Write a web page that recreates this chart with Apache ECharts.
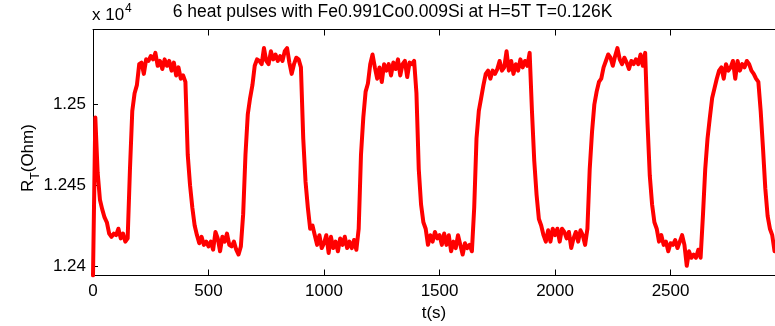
<!DOCTYPE html>
<html>
<head>
<meta charset="utf-8">
<script src="https://cdn.jsdelivr.net/npm/echarts@6/dist/echarts.min.js"></script>
<style>
html,body{margin:0;padding:0;background:#fff;}
#chart{width:775px;height:326px;}
</style>
</head>
<body>
<div id="chart"></div>
<script>
// Sampling step of the recording (s)
const timeStep = 10;
// Resistance R_T (Ohm), one value every 10 s from t = 0
const resistance = [
12394,12492,12458,12441,12435,12430,12427,12420,12418,12420,
12419,12423,12417,12420,12415,12417,12460,12496,12507,12512,
12525,12526,12519,12528,12527,12530,12528,12532,12524,12527,
12522,12528,12524,12527,12521,12526,12518,12523,12516,12518,
12514,12469,12450,12436,12425,12419,12414,12418,12413,12415,
12412,12415,12410,12421,12417,12409,12418,12415,12420,12413,
12412,12415,12410,12407,12412,12432,12469,12494,12504,12512,
12524,12528,12527,12525,12535,12527,12525,12533,12528,12531,
12527,12530,12527,12533,12535,12526,12519,12525,12529,12528,
12523,12479,12452,12436,12423,12425,12419,12413,12419,12411,
12414,12419,12408,12418,12411,12415,12409,12417,12413,12418,
12411,12415,12411,12416,12410,12423,12469,12492,12508,12513,
12525,12531,12523,12516,12523,12514,12525,12521,12525,12518,
12526,12522,12528,12518,12525,12527,12517,12526,12525,12527,
12507,12460,12438,12427,12423,12413,12419,12415,12421,12417,
12419,12413,12420,12413,12419,12409,12415,12411,12419,12413,
12407,12414,12411,12413,12409,12436,12479,12496,12504,12512,
12519,12521,12516,12521,12519,12522,12527,12521,12523,12533,
12521,12527,12519,12525,12521,12528,12523,12527,12524,12532,
12496,12465,12444,12429,12425,12419,12415,12422,12415,12423,
12419,12423,12415,12423,12421,12417,12421,12411,12417,12421,
12415,12422,12419,12413,12423,12460,12483,12500,12508,12514,
12516,12523,12527,12531,12529,12524,12530,12535,12528,12525,
12529,12526,12522,12527,12525,12528,12525,12531,12524,12532,
12489,12456,12438,12427,12423,12415,12419,12413,12415,12409,
12414,12413,12416,12411,12415,12419,12413,12400,12409,12405,
12407,12405,12410,12405,12431,12460,12479,12492,12504,12510,
12516,12521,12523,12516,12525,12521,12523,12527,12516,12527,
12521,12525,12523,12527,12525,12521,12519,12516,12514,12496,
12473,12448,12431,12423,12419,12409
];
// Axis tick values
const xTicks = [0, 500, 1000, 1500, 2000, 2500];
const yTicks = [12400, 12450, 12500];
const xRange = [0, 2952];
const yRange = [12394, 12546.5];

const titleText = '6 heat pulses with Fe0.991Co0.009Si at H=5T T=0.126K';
const xName = 't(s)';

const seriesData = resistance.map((v, i) => [i * timeStep, v]);

const FONT = '"Liberation Sans", Arial, Helvetica, sans-serif';
const axisLine = {show: true, lineStyle: {color: '#000', width: 1}};

const chart = echarts.init(document.getElementById('chart'), null, {renderer: 'canvas'});
chart.setOption({
  animation: false,
  backgroundColor: '#fff',
  grid: {left: 93, top: 29.5, width: 682, height: 246, show: false},
  xAxis: [{
    type: 'value', min: xRange[0], max: xRange[1], position: 'bottom',
    axisLine: axisLine,
    axisTick: {show: true, inside: true, length: 6, customValues: xTicks, lineStyle: {color: '#000'}},
    axisLabel: {show: true, customValues: xTicks, margin: 7, color: '#000', fontSize: 17, fontFamily: FONT,
      formatter: v => String(v)},
    splitLine: {show: false}
  }, {
    type: 'value', min: xRange[0], max: xRange[1], position: 'top',
    axisLine: axisLine,
    axisTick: {show: true, inside: true, length: 6, customValues: xTicks, lineStyle: {color: '#000'}},
    axisLabel: {show: false},
    splitLine: {show: false}
  }],
  yAxis: [{
    type: 'value', min: yRange[0], max: yRange[1], position: 'left',
    axisLine: axisLine,
    axisTick: {show: true, inside: true, length: 5, customValues: yTicks, lineStyle: {color: '#000'}},
    axisLabel: {show: true, customValues: yTicks, margin: 7, color: '#000', fontSize: 17, fontFamily: FONT,
      formatter: v => String(Math.round(v / 10) / 1000)},
    splitLine: {show: false}
  }, {
    type: 'value', min: yRange[0], max: yRange[1], position: 'right',
    axisLine: axisLine,
    axisTick: {show: false}, axisLabel: {show: false}, splitLine: {show: false}
  }],
  series: [{
    type: 'line', xAxisIndex: 0, yAxisIndex: 0,
    data: seriesData, showSymbol: false, symbol: 'none',
    lineStyle: {color: '#ff0000', width: 4, join: 'round', cap: 'round'},
    clip: true
  }],
  graphic: [
    {type: 'text', left: 92, top: 7, style: {text: 'x 10', font: '17px ' + FONT, fill: '#000'}},
    {type: 'text', left: 125, top: 3, style: {text: '4', font: '12px ' + FONT, fill: '#000'}},
    {type: 'text', x: 392.5, y: 12, style: {text: titleText, font: '17.5px ' + FONT, fill: '#000', align: 'center', verticalAlign: 'middle'}},
    {type: 'text', x: 434, y: 313, style: {text: xName, font: '17px ' + FONT, fill: '#000', align: 'center', verticalAlign: 'middle'}},
    {type: 'text', x: 28, y: 158, rotation: Math.PI / 2,
      style: {
        text: '{a|R}{b|T}{a|(Ohm)}', align: 'center', verticalAlign: 'middle',
        rich: {
          a: {font: '17px ' + FONT, fill: '#000', verticalAlign: 'bottom'},
          b: {font: '12px ' + FONT, fill: '#000', verticalAlign: 'bottom', padding: [0, 0, -5, 0]}
        }
      }}
  ]
});
</script>
</body>
</html>
